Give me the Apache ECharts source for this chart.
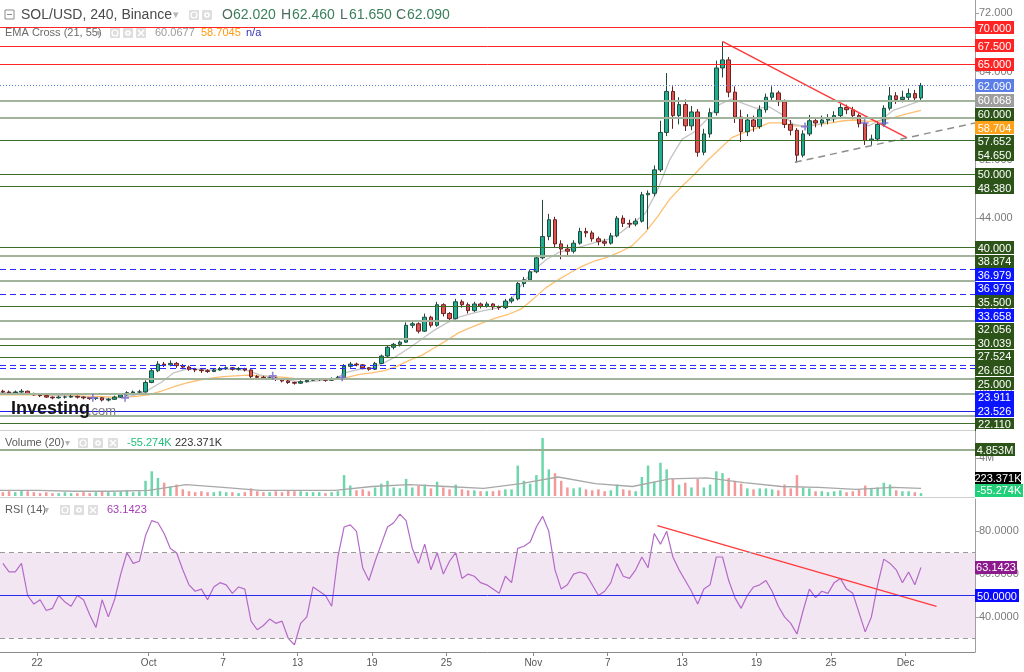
<!DOCTYPE html>
<html>
<head>
<meta charset="utf-8">
<title>SOL/USD, 240, Binance</title>
<script src="https://cdn.jsdelivr.net/npm/echarts@6.0.0/dist/echarts.min.js"></script>
<style>
html,body{margin:0;padding:0;background:#ffffff;}
#chart{width:1024px;height:672px;}
</style>
</head>
<body>
<div id="chart"></div>
<script>
// ---------------- DATA ----------------
// x unit = days, day 0 = Sep 22. 12-hour candles, first centred on Sep 19 06:00.
const firstCandleDay = -2.75;
const candleStepDays = 0.5;

const candleOpen = [
 20.4,20.3,20.2,20.3,20.4,20.1,19.9,19.8,19.6,19.5,
 19.6,19.6,19.7,19.6,19.5,19.4,19.5,19.2,19.3,19.6,
 19.9,20.2,20.3,20.3,21.6,23.2,24.1,24.0,24.2,23.9,
 23.7,23.4,23.3,23.2,23.1,23.3,23.5,23.6,23.4,23.5,
 23.3,22.4,22.3,22.2,22.2,22.0,21.8,21.6,21.5,21.7,
 21.9,22.0,22.0,21.9,22.1,22.3,23.8,24.1,24.0,23.6,
 23.4,24.2,25.2,26.4,26.8,27.1,29.4,29.6,28.6,30.5,
 29.4,32.2,31.0,30.3,32.6,32.2,31.4,32.3,32.0,32.3,
 31.9,31.8,32.7,33.0,35.1,35.6,36.7,38.6,41.5,43.8,
 40.5,39.8,39.5,40.6,42.2,42.0,41.2,40.8,40.6,41.6,
 44.0,43.3,43.2,43.6,47.2,47.4,50.6,55.7,61.3,58.0,
 59.5,56.6,58.5,53.0,55.5,58.4,64.5,65.6,61.2,57.8,
 55.8,57.4,56.5,58.8,60.5,61.1,59.9,56.8,56.0,52.6,
 55.5,57.3,57.0,57.4,57.6,58.0,59.1,58.8,58.0,56.9,
 54.6,54.8,56.8,59.0,60.7,60.2,60.5,61.0,60.4
];
const candleClose = [
 20.3,20.2,20.3,20.4,20.1,19.9,19.8,19.6,19.5,19.6,
 19.6,19.7,19.6,19.5,19.4,19.5,19.2,19.3,19.6,19.9,
 20.2,20.3,20.3,21.6,23.2,24.1,24.0,24.2,23.9,23.7,
 23.4,23.3,23.2,23.1,23.3,23.5,23.6,23.4,23.5,23.3,
 22.4,22.3,22.2,22.2,22.0,21.8,21.6,21.5,21.7,21.9,
 22.0,22.0,21.9,22.1,22.3,23.8,24.1,24.0,23.6,23.4,
 24.2,25.2,26.4,26.8,27.1,29.4,29.6,28.6,30.5,29.4,
 32.2,31.0,30.3,32.6,32.2,31.4,32.3,32.0,32.3,31.9,
 31.8,32.7,33.0,35.1,35.6,36.7,38.6,41.5,43.8,40.5,
 39.8,39.5,40.6,42.2,42.0,41.2,40.8,40.6,41.6,44.0,
 43.3,43.2,43.6,47.2,47.4,50.6,55.7,61.3,58.0,59.5,
 56.6,58.5,53.0,55.5,58.4,64.5,65.6,61.2,57.8,55.8,
 57.4,56.5,58.8,60.5,61.1,59.9,56.8,56.0,52.6,55.5,
 57.3,57.0,57.4,57.6,58.0,59.1,58.8,58.0,56.9,54.6,
 54.8,56.8,59.0,60.7,60.2,60.5,61.0,60.4,62.09
];
const candleLow = [
 20.1,20.0,20.1,20.2,19.9,19.8,19.6,19.5,19.3,19.4,
 19.4,19.5,19.4,19.3,19.2,19.2,19.0,19.0,19.2,19.5,
 19.8,20.0,20.1,20.2,21.5,23.0,23.7,23.8,23.6,23.4,
 23.2,23.0,22.9,22.9,23.0,23.2,23.3,23.2,23.2,23.1,
 22.2,22.1,22.0,22.0,21.8,21.6,21.4,21.3,21.4,21.6,
 21.8,21.8,21.7,21.8,22.0,22.2,23.6,23.8,23.4,23.2,
 23.3,24.1,25.0,26.1,26.5,27.0,29.0,28.3,28.5,29.1,
 29.2,30.6,30.0,30.2,31.8,31.0,31.2,31.7,31.8,31.5,
 31.5,31.6,32.4,32.8,34.6,35.3,36.5,38.4,41.0,40.0,
 38.4,38.8,39.2,40.4,41.4,40.8,40.3,40.2,40.4,41.4,
 42.8,42.7,42.9,43.4,42.5,47.0,50.3,55.2,56.2,56.8,
 55.9,56.0,52.4,52.6,55.0,58.0,63.2,60.5,57.0,54.4,
 55.2,55.8,56.2,58.4,60.0,59.3,56.3,55.3,51.6,52.3,
 55.2,56.4,56.5,56.8,57.1,57.7,58.2,57.5,56.4,54.0,
 53.9,54.5,56.5,58.7,59.6,59.8,60.0,59.9,60.1
];
const candleHigh = [
 20.6,20.5,20.5,20.7,20.5,20.2,20.0,19.9,19.7,19.8,
 19.8,19.9,19.8,19.7,19.6,19.6,19.6,19.5,19.8,20.0,
 20.4,20.5,20.6,21.9,23.5,24.5,24.4,24.6,24.4,24.1,
 23.9,23.6,23.5,23.4,23.5,23.7,23.8,23.7,23.7,23.6,
 23.4,22.6,22.5,22.4,22.3,22.1,21.9,21.7,21.9,22.1,
 22.2,22.2,22.1,22.3,22.5,24.1,24.4,24.3,24.1,23.7,
 24.4,25.4,26.6,27.0,27.3,29.8,30.0,29.8,31.0,30.7,
 32.6,32.4,31.2,33.0,32.9,32.5,32.6,32.5,32.6,32.4,
 32.1,33.0,33.3,35.5,36.0,37.0,39.0,46.5,44.6,44.2,
 41.0,40.4,41.0,42.7,42.7,42.3,41.5,41.2,42.0,44.3,
 44.4,43.8,44.0,47.6,47.8,51.2,57.3,63.8,62.0,60.5,
 60.2,59.3,58.9,56.2,59.0,65.5,68.1,66.0,62.0,58.8,
 58.2,58.0,59.4,61.0,62.0,61.4,60.2,57.4,56.3,56.0,
 58.1,57.8,58.0,58.2,58.6,59.6,59.5,59.2,58.3,57.1,
 55.4,57.2,59.4,61.9,61.2,61.4,61.7,61.5,62.46
];
// volume in millions
const volume = [
 0.4,0.5,0.4,0.6,0.5,0.4,0.3,0.4,0.3,0.3,
 0.4,0.3,0.3,0.4,0.3,0.4,0.5,0.4,0.4,0.5,
 0.6,0.4,0.5,1.6,2.6,1.9,1.4,1.0,1.2,0.7,
 0.5,0.4,0.5,0.4,0.4,0.5,0.4,0.4,0.3,0.4,
 0.8,0.5,0.4,0.4,0.5,0.4,0.6,0.5,0.5,0.4,
 0.4,0.4,0.3,0.4,0.5,2.2,1.1,0.6,0.7,0.5,
 0.9,1.3,1.6,0.9,0.8,1.8,0.9,1.1,1.2,0.8,
 1.5,0.9,0.7,1.2,0.7,0.6,0.6,0.5,0.5,0.5,
 0.6,0.7,0.7,3.2,1.6,1.3,2.2,6.1,2.8,2.4,
 1.6,0.9,0.8,0.9,0.7,0.6,0.7,0.5,0.6,1.2,
 0.7,0.6,0.5,2.0,3.2,1.5,3.5,2.8,1.8,1.2,
 1.4,0.9,1.8,0.9,1.2,2.6,2.4,1.9,1.6,1.3,
 0.8,0.7,0.8,0.8,0.7,0.6,1.2,0.8,2.2,0.9,
 0.8,0.5,0.5,0.4,0.5,0.6,0.4,0.5,0.7,1.1,
 0.8,0.9,1.4,1.2,0.6,0.5,0.5,0.4,0.3
];
const rsi = [
 65,61,61,65,50,46,48,43,44,50,
 47,45,50,48,41,35,48,40,48,60,
 70,65,66,78,85,84,79,72,70,62,
 55,52,53,48,54,56,55,51,54,53,
 38,34,36,39,37,38,30,27,37,40,
 54,52,50,45,68,82,83,80,63,57,
 66,74,82,84,88,85,72,65,74,62,
 70,60,66,70,58,60,59,56,55,53,
 51,59,56,72,73,75,82,87,80,62,
 53,55,60,61,60,55,50,52,56,65,
 59,58,62,68,63,79,74,80,68,62,
 57,52,46,53,55,68,68,57,49,44,
 50,54,55,57,52,45,40,37,32,43,
 53,49,52,51,56,58,53,51,42,33,
 40,55,67,65,62,56,61,55,63.14
];
const emaDays = [
 -3,-2,-1,0,1,2,3,4,5,6,7,8,9,10,11,12,13,14,15,16,17,18,19,20,21,22,23,24,25,26,
 27,28,29,30,31,32,33,34,35,36,37,38,39,40,41,42,43,44,45,46,47,48,49,50,51,52,53,54,55,56,
 57,58,59,60,61,62,63,64,65,66,67,68,69,70,71,71.25
];
const ema21 = [
 20.2,20.2,20.1,20.0,19.9,19.8,19.7,19.6,19.5,19.4,19.6,19.9,20.6,21.6,22.9,23.4,23.4,23.3,23.4,23.4,
 23.2,22.6,22.3,22.0,21.7,21.7,21.9,22.1,23.0,23.4,23.6,24.3,25.2,26.3,27.5,28.7,29.7,30.5,31.0,31.4,
 31.7,32.4,34.8,36.8,38.3,39.3,39.8,40.2,40.7,41.1,42.0,43.3,44.6,47.8,52.0,54.8,55.8,57.5,59.5,60.3,
 59.6,59.0,59.2,58.2,56.8,56.5,56.8,57.4,57.8,57.6,56.6,57.4,58.7,59.3,59.9,60.07
];
const ema55 = [
 19.9,19.9,19.9,19.9,19.85,19.8,19.8,19.7,19.7,19.6,19.6,19.7,19.9,20.4,21.0,21.5,21.9,22.2,22.4,22.5,
 22.6,22.5,22.4,22.3,22.1,22.0,22.0,22.0,22.3,22.7,22.9,23.2,23.8,24.6,25.3,26.3,27.3,28.4,29.1,29.8,
 30.4,30.9,31.6,33.0,34.5,35.6,36.6,37.5,38.2,38.7,39.4,40.3,42.0,44.2,46.6,48.4,50.0,51.8,53.4,55.0,
 55.7,56.3,57.0,57.0,56.6,56.6,56.8,57.0,57.3,57.4,57.2,57.3,57.7,58.2,58.6,58.70
];
const volMaDays = [-3,0,3,6,9,12,15,18,21,24,27,30,33,36,39,42,45,48,51,54,57,60,63,66,69,71.25];
const volMa =     [0.6,0.6,0.5,0.5,0.6,1.2,0.9,0.6,0.6,0.6,1.0,1.2,1.0,0.8,1.3,2.0,1.3,1.0,1.8,1.9,1.4,1.0,0.9,0.7,0.9,0.8];

const tickDays   = [0, 9, 15, 21, 27, 33, 40, 46, 52, 58, 64, 70];
const tickLabels = ['22','Oct','7','13','19','25','Nov','7','13','19','25','Dec'];
const priceTicks = [16,20,24,28,32,36,40,44,48,52,56,60,64,72];
const volumeTicks = [4];
const rsiTicks = [40,60,80];

const redLevels = [70, 67.5, 65];
const darkGreenLevels = [54.65, 50, 48.38, 40, 32.056, 26.65, 25, 16.1];
const paleGreenLevels = [60, 57.652, 38.874, 35.5, 30.039, 27.524, 22.11, 20, 17];
const blueDashLevels = [36.979, 36.979, 33.658, 23.911, 23.526];
const blueSolidLevels = [17.7];
const lastPrice = 62.09;
const lastEma21 = 60.068;
const lastEma55 = 58.704;

const priceTrend = [[55.28, 68.1], [70.1, 55.0]];
const supportTrend = [[61.08, 51.63], [75.6, 57.0]];
const emaCrosses = [[4.5,19.5],[7.1,19.5],[19.0,22.5],[24.6,22.3],[61.9,56.5],[66.7,57.0],[68.3,57.0]];
const volumeLevel = 4.853;
const volumeNow = 0.223371;
const volumeOsc = -0.055274;
const rsiNow = 63.1423;
const rsiTrend = [[50.0, 82.7], [72.5, 44.9]];

// ---------------- CHART ----------------
const FONT = "'Liberation Sans', Arial, sans-serif";
const X_MIN = -2.98, X_MAX = 75.6;
const PLOT_W = 975;
const MAIN = {top: 0, h: 429}, VOL = {top: 431, h: 65}, RSIP = {top: 499, h: 153};

const candleDays = candleClose.map((_, i) => firstCandleDay + i * candleStepDays);
const candleData = candleDays.map((d, i) => [d, candleOpen[i], candleClose[i], candleLow[i], candleHigh[i]]);
const volumeData = candleDays.map((d, i) => ({
  value: [d, volume[i]],
  itemStyle: {color: candleClose[i] >= candleOpen[i] ? '#6ed6ab' : '#f29a9a'}
}));
const rsiData = candleDays.map((d, i) => [d, rsi[i]]);
const ema21Data = emaDays.map((d, i) => [d, ema21[i]]);
const ema55Data = emaDays.map((d, i) => [d, ema55[i]]);
const volMaData = volMaDays.map((d, i) => [d, volMa[i]]);

const GREEN_BOX = '#2c5418';
const BLUE_BOX = '#0a14ff';
const RED = '#ff2424';

const levelLines = [];
redLevels.forEach(v => levelLines.push({yAxis: v, lineStyle: {color: RED, width: 1, type: 'solid'}}));
darkGreenLevels.forEach(v => levelLines.push({yAxis: v, lineStyle: {color: '#3f6e2c', width: 1.2, type: 'solid'}}));
paleGreenLevels.forEach(v => levelLines.push({yAxis: v, lineStyle: {color: '#a2b59c', width: 2, type: 'solid'}}));
blueDashLevels.forEach(v => levelLines.push({yAxis: v, lineStyle: {color: '#2b2bff', width: 1.2, type: [6, 4]}}));
blueSolidLevels.forEach(v => levelLines.push({yAxis: v, lineStyle: {color: '#2020e8', width: 1.2, type: 'solid'}}));
levelLines.push({yAxis: lastPrice, lineStyle: {color: '#5b7de8', width: 1, type: [1, 2]}});

const tickLabelFor = v => {
  const k = tickDays.indexOf(Math.round(v));
  return k >= 0 ? tickLabels[k] : '';
};

function xAxisFor(idx, shown) {
  return {
    type: 'value', gridIndex: idx, min: X_MIN, max: X_MAX, show: shown,
    axisLine: {show: true, onZero: false, lineStyle: {color: '#8a8a8a', width: 1}},
    axisTick: {show: true, customValues: tickDays, length: 4, lineStyle: {color: '#8a8a8a'}},
    axisLabel: {customValues: tickDays, formatter: tickLabelFor, color: '#555', fontSize: 10, margin: 6, fontFamily: FONT},
    splitLine: {show: false}
  };
}
function yAxisFor(idx, min, max, ticks, fmt) {
  return {
    type: 'value', gridIndex: idx, position: 'right', min: min, max: max,
    axisLine: {show: true, onZero: false, lineStyle: {color: '#a0a0a0', width: 1}},
    axisTick: {show: true, customValues: ticks, length: 4, lineStyle: {color: '#a0a0a0'}},
    axisLabel: {customValues: ticks, formatter: fmt, color: '#7a7a7a', fontSize: 11, margin: 4, fontFamily: FONT},
    splitLine: {show: false}
  };
}

const chart = echarts.init(document.getElementById('chart'), null, {renderer: 'canvas'});

chart.setOption({
  animation: false,
  backgroundColor: '#ffffff',
  textStyle: {fontFamily: FONT},
  grid: [
    {left: 0, top: MAIN.top, width: PLOT_W, height: MAIN.h},
    {left: 0, top: VOL.top, width: PLOT_W, height: VOL.h},
    {left: 0, top: RSIP.top, width: PLOT_W, height: RSIP.h}
  ],
  xAxis: [xAxisFor(0, false), xAxisFor(1, false), xAxisFor(2, true)],
  yAxis: [
    yAxisFor(0, 15.25, 73.77, priceTicks, v => v.toFixed(3)),
    yAxisFor(1, 0, 6.84, volumeTicks, v => v + 'M'),
    yAxisFor(2, 23.6, 95.1, rsiTicks, v => v.toFixed(4))
  ],
  series: [
    {
      type: 'line', name: 'levels', xAxisIndex: 0, yAxisIndex: 0, data: [], silent: true, z: 1,
      markLine: {silent: true, symbol: ['none', 'none'], label: {show: false}, emphasis: {disabled: true}, data: levelLines}
    },
    {
      type: 'line', name: 'EMA 55', xAxisIndex: 0, yAxisIndex: 0, data: ema55Data, symbol: 'none', silent: true, z: 2,
      lineStyle: {color: '#ffbf70', width: 1.3}
    },
    {
      type: 'line', name: 'EMA 21', xAxisIndex: 0, yAxisIndex: 0, data: ema21Data, symbol: 'none', silent: true, z: 2,
      lineStyle: {color: '#c4c4c4', width: 1.3}
    },
    {
      type: 'candlestick', name: 'SOL/USD', xAxisIndex: 0, yAxisIndex: 0, data: candleData, z: 3,
      encode: {x: 0, y: [1, 2, 3, 4]}, barWidth: 4,
      itemStyle: {color: '#1fae8f', color0: '#e0544f', borderColor: '#1f4a3c', borderColor0: '#6a2020', borderWidth: 1}
    },
    {
      type: 'line', name: 'trend', xAxisIndex: 0, yAxisIndex: 0, data: priceTrend, symbol: 'none', silent: true, z: 4,
      lineStyle: {color: '#ff3a3a', width: 1.5}
    },
    {
      type: 'line', name: 'support', xAxisIndex: 0, yAxisIndex: 0, data: supportTrend, symbol: 'none', silent: true, z: 4,
      lineStyle: {color: '#8a8f8a', width: 1.5, type: [7, 5]}
    },
    {
      type: 'scatter', name: 'EMA cross', xAxisIndex: 0, yAxisIndex: 0, data: emaCrosses, z: 5, silent: true,
      symbol: 'path://M4,0H6V4H10V6H6V10H4V6H0V4H4Z', symbolSize: 8,
      itemStyle: {color: '#7a6fd0', opacity: 0.85}
    },
    {
      type: 'bar', name: 'Volume', xAxisIndex: 1, yAxisIndex: 1, data: volumeData, barWidth: 2.5, silent: true,
      markLine: {silent: true, symbol: ['none', 'none'], label: {show: false},
        data: [{yAxis: volumeLevel, lineStyle: {color: '#9aae92', width: 2, type: 'solid'}}]}
    },
    {
      type: 'line', name: 'Volume MA', xAxisIndex: 1, yAxisIndex: 1, data: volMaData, symbol: 'none', silent: true,
      lineStyle: {color: '#a8a8a8', width: 1.3}
    },
    {
      type: 'line', name: 'RSI', xAxisIndex: 2, yAxisIndex: 2, data: rsiData, symbol: 'none', silent: true, z: 3,
      lineStyle: {color: '#b46ac8', width: 1.2},
      markArea: {silent: true, itemStyle: {color: '#f3e6f3'}, data: [[{yAxis: 30}, {yAxis: 70}]]},
      markLine: {silent: true, symbol: ['none', 'none'], label: {show: false}, data: [
        {yAxis: 70, lineStyle: {color: '#9a9a9a', width: 1, type: [5, 4]}},
        {yAxis: 30, lineStyle: {color: '#9a9a9a', width: 1, type: [5, 4]}},
        {yAxis: 50, lineStyle: {color: '#2a2aee', width: 1, type: 'solid'}}
      ]}
    },
    {
      type: 'line', name: 'RSI trend', xAxisIndex: 2, yAxisIndex: 2, data: rsiTrend, symbol: 'none', silent: true, z: 4,
      lineStyle: {color: '#ff3a3a', width: 1.3}
    }
  ]
});

// ---------------- right-hand value boxes (stacked like the original) ----------------
function stackBoxes(items, axisIndex, spacing, bottomLimit) {
  const arr = items.map(it => Object.assign({}, it, {y: chart.convertToPixel({yAxisIndex: axisIndex}, it.value)}));
  arr.sort((a, b) => a.y - b.y);
  for (let i = 1; i < arr.length; i++) {
    if (arr[i].y < arr[i - 1].y + spacing) arr[i].y = arr[i - 1].y + spacing;
  }
  if (bottomLimit != null) {
    if (arr[arr.length - 1].y > bottomLimit) arr[arr.length - 1].y = bottomLimit;
    for (let i = arr.length - 2; i >= 0; i--) {
      if (arr[i].y > arr[i + 1].y - spacing) arr[i].y = arr[i + 1].y - spacing;
    }
  }
  return arr;
}
const fmt3 = v => v.toFixed(3);
const mainItems = [];
redLevels.forEach(v => mainItems.push({value: v, text: fmt3(v), color: RED}));
mainItems.push({value: lastPrice, text: fmt3(lastPrice), color: '#5b7de8'});
mainItems.push({value: lastEma21, text: fmt3(lastEma21), color: '#9e9e9e'});
mainItems.push({value: lastEma55, text: fmt3(lastEma55), color: '#ffa21a'});
darkGreenLevels.concat(paleGreenLevels).forEach(v => mainItems.push({value: v, text: fmt3(v), color: GREEN_BOX}));
blueDashLevels.concat(blueSolidLevels).forEach(v => mainItems.push({value: v, text: fmt3(v), color: BLUE_BOX}));

const volItems = [
  {value: volumeLevel, text: volumeLevel.toFixed(3) + 'M', color: GREEN_BOX, w: 40},
  {value: volumeNow, text: (volumeNow * 1000).toFixed(3) + 'K', color: '#000000', w: 46},
  {value: volumeOsc, text: (volumeOsc * 1000).toFixed(3) + 'K', color: '#22d07a', w: 48}
];
const rsiItems = [
  {value: rsiNow, text: rsiNow.toFixed(4), color: '#8c1a8c', w: 42},
  {value: 50, text: (50).toFixed(4), color: '#0a0aff', w: 44}
];

const boxGraphics = [];
function pushBox(it, defW) {
  const w = it.w || defW, h = 13;
  boxGraphics.push({type: 'rect', z: 100, silent: true,
    shape: {x: PLOT_W, y: Math.round(it.y - h / 2), width: w, height: h}, style: {fill: it.color}});
  boxGraphics.push({type: 'text', z: 101, silent: true,
    style: {x: PLOT_W + w / 2, y: Math.round(it.y) + 0.5, text: it.text, fill: '#ffffff', font: '11px ' + FONT, align: 'center', verticalAlign: 'middle'}});
}
stackBoxes(mainItems, 0, 13.6, null).forEach(it => { if (it.y - 6.5 < MAIN.top + MAIN.h) pushBox(it, 39); });
stackBoxes(volItems, 1, 12, VOL.top + VOL.h - 6).forEach(it => pushBox(it, 40));
stackBoxes(rsiItems, 2, 13.6, null).forEach(it => pushBox(it, 42));
// clip the box that runs over the pane edge
boxGraphics.push({type: 'rect', z: 102, silent: true, shape: {x: PLOT_W + 1, y: MAIN.top + MAIN.h, width: 60, height: 7}, style: {fill: '#ffffff'}});

// ---------------- titles, icons, logo ----------------
const G = [];
function txt(x, y, text, color, size, weight) {
  G.push({type: 'text', z: 110, silent: true,
    style: {x: x, y: y, text: text, fill: color, font: (weight || 'normal') + ' ' + size + 'px ' + FONT, verticalAlign: 'middle', align: 'left'}});
}
function icon(x, y, kind) {
  G.push({type: 'rect', z: 110, silent: true, shape: {x: x, y: y - 5, width: 10, height: 10, r: 1}, style: {fill: '#dedede'}});
  if (kind === 'eye') {
    G.push({type: 'circle', z: 111, silent: true, shape: {cx: x + 5, cy: y, r: 3}, style: {fill: 'none', stroke: '#ffffff', lineWidth: 1.2}});
  } else if (kind === 'gear') {
    G.push({type: 'circle', z: 111, silent: true, shape: {cx: x + 5, cy: y, r: 2.8}, style: {fill: '#ffffff'}});
    G.push({type: 'circle', z: 112, silent: true, shape: {cx: x + 5, cy: y, r: 1.2}, style: {fill: '#dedede'}});
  } else {
    G.push({type: 'line', z: 111, silent: true, shape: {x1: x + 2, y1: y - 3, x2: x + 8, y2: y + 3}, style: {stroke: '#ffffff', lineWidth: 1.4}});
    G.push({type: 'line', z: 111, silent: true, shape: {x1: x + 8, y1: y - 3, x2: x + 2, y2: y + 3}, style: {stroke: '#ffffff', lineWidth: 1.4}});
  }
}
// header line 1
G.push({type: 'rect', z: 110, silent: true, shape: {x: 5, y: 10, width: 9, height: 9}, style: {fill: '#ffffff', stroke: '#8a8a8a', lineWidth: 1}});
G.push({type: 'line', z: 111, silent: true, shape: {x1: 7, y1: 14.5, x2: 12, y2: 14.5}, style: {stroke: '#8a8a8a', lineWidth: 1}});
txt(21, 15, 'SOL/USD, 240, Binance', '#4a4a4a', 14);
txt(173, 15, '▾', '#b5b5b5', 11);
icon(189, 15, 'eye'); icon(202, 15, 'gear');
txt(222, 15, 'O', '#4d6d5d', 14); txt(233, 15, '62.020', '#3a8059', 14);
txt(281, 15, 'H', '#4d6d5d', 14); txt(292, 15, '62.460', '#3a8059', 14);
txt(340, 15, 'L', '#4d6d5d', 14); txt(349, 15, '61.650', '#3a8059', 14);
txt(396, 15, 'C', '#4d6d5d', 14); txt(407, 15, '62.090', '#3a8059', 14);
// header line 2
txt(5, 33, 'EMA Cross (21, 55)', '#6a6a6a', 11);
txt(96, 33, '▾', '#b5b5b5', 10);
icon(110, 33, 'eye'); icon(123, 33, 'gear'); icon(136, 33, 'x');
txt(155, 33, '60.0677', '#9a9a9a', 11);
txt(201, 33, '58.7045', '#ff9a10', 11);
txt(246, 33, 'n/a', '#3434b8', 11);
// volume title
txt(5, 443, 'Volume (20)', '#5a5a5a', 11);
txt(65, 443, '▾', '#b5b5b5', 10);
icon(78, 443, 'eye'); icon(93, 443, 'gear'); icon(108, 443, 'x');
txt(127, 443, '-55.274K', '#20c07a', 11);
txt(175, 443, '223.371K', '#333333', 11);
// RSI title
txt(5, 510, 'RSI (14)', '#5a5a5a', 11);
txt(44, 510, '▾', '#b5b5b5', 10);
icon(60, 510, 'eye'); icon(74, 510, 'gear'); icon(88, 510, 'x');
txt(107, 510, '63.1423', '#a53db5', 11);
// watermark logo
G.push({type: 'text', z: 110, silent: true,
  style: {x: 11, y: 409, text: 'Investing', fill: '#151515', font: 'bold 18px ' + FONT, verticalAlign: 'middle', align: 'left'}});
G.push({type: 'text', z: 110, silent: true,
  style: {x: 88, y: 411, text: '.com', fill: '#7a7a7a', font: '13px ' + FONT, verticalAlign: 'middle', align: 'left'}});
// pane separators
G.push({type: 'line', z: 50, silent: true, shape: {x1: 0, y1: 430.5, x2: PLOT_W, y2: 430.5}, style: {stroke: '#cfcfcf', lineWidth: 1}});
G.push({type: 'line', z: 50, silent: true, shape: {x1: 0, y1: 497.5, x2: PLOT_W, y2: 497.5}, style: {stroke: '#cfcfcf', lineWidth: 1}});

chart.setOption({graphic: {elements: boxGraphics.concat(G)}});
</script>
</body>
</html>
